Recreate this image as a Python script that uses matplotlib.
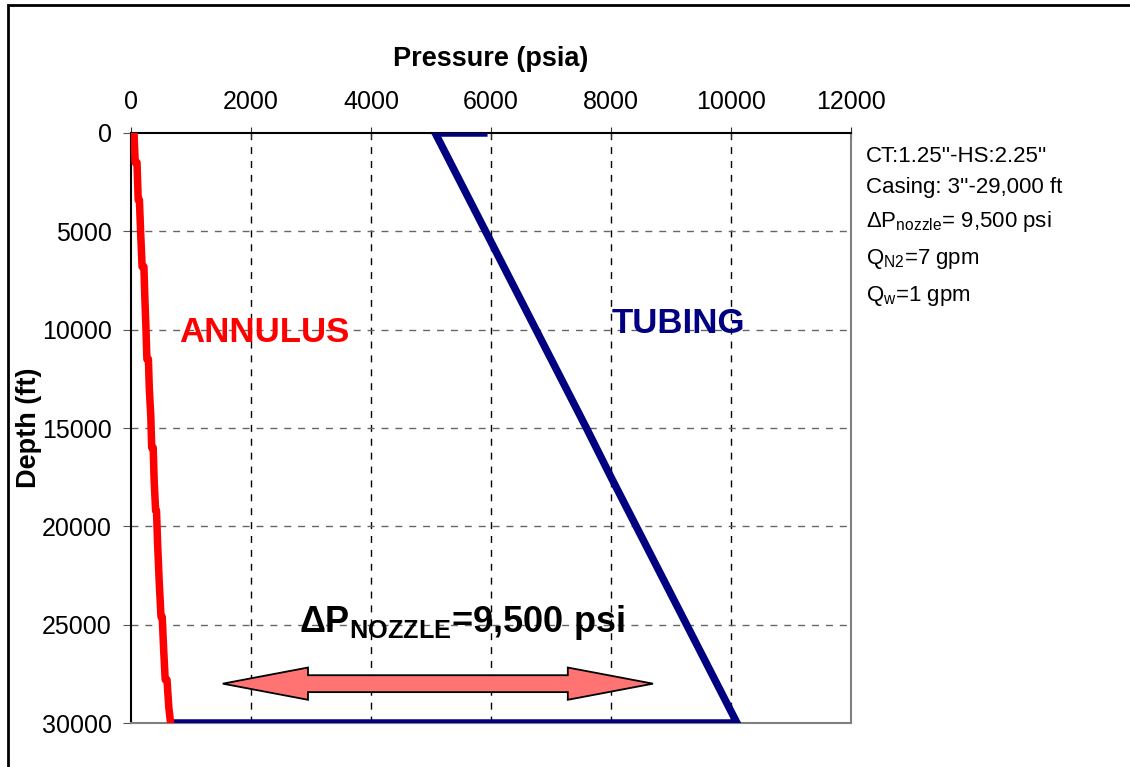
import matplotlib
matplotlib.use("Agg")
import matplotlib.pyplot as plt
from matplotlib.patches import Polygon, Rectangle

plt.rcParams['font.family'] = ['Liberation Sans', 'DejaVu Sans']
plt.rcParams['mathtext.fontset'] = 'custom'
plt.rcParams['mathtext.rm'] = 'Liberation Sans'
plt.rcParams['mathtext.it'] = 'Liberation Sans:italic'
plt.rcParams['mathtext.bf'] = 'Liberation Sans:bold'

# annulus pressure profile (stepped), depth in ft, pressure in psia
ann_depth = [0, 1500, 1500, 3400, 3400, 5000, 6800, 6800, 8300, 10000, 11500, 11500,
             13000, 14400, 16000, 16000, 17600, 19200, 19200, 21000, 22800, 24600,
             24600, 26300, 27800, 27800, 29200, 30000]
ann_press = [50, 70, 100, 120, 140, 160, 185, 215, 230, 250, 265, 290,
             305, 330, 345, 370, 385, 410, 425, 445, 470, 500,
             520, 545, 570, 600, 630, 660]

# tubing profile: surface choke leg, string down to nozzle, then across to annulus
tub_depth = [0, 0, 2500, 5000, 7500, 10000, 12500, 15000, 17500, 20000,
             22500, 25000, 27500, 30000, 30000]
tub_press = [5880, 5070, 5490, 5910, 6330, 6750, 7170, 7590, 8000, 8420,
             8840, 9260, 9680, 10100, 730]

x_ticks = [0, 2000, 4000, 6000, 8000, 10000, 12000]
y_ticks = [0, 5000, 10000, 15000, 20000, 25000, 30000]

info_lines = ["CT:1.25''-HS:2.25''",
              "Casing: 3''-29,000 ft",
              "\u0394P$_{\\mathrm{nozzle}}$= 9,500 psi",
              "Q$_{\\mathrm{N2}}$=7 gpm",
              "Q$_{\\mathrm{w}}$=1 gpm"]

# nozzle pressure-drop arrow span (psia) and depth
arrow_left, arrow_right, arrow_depth = 1530, 8700, 28000

fig = plt.figure(figsize=(11.3, 7.67), dpi=100)
ax = fig.add_axes([131/1130, 1-723/767, 720/1130, 590/767])

ax.plot(tub_press, tub_depth, color='#000080', lw=5.4, zorder=3, solid_joinstyle='miter')
ax.plot(ann_press, ann_depth, color='#FF0000', lw=5.4, zorder=4)

ax.set_xlim(0, 12000)
ax.set_ylim(30000, 0)
ax.set_xticks(x_ticks)
ax.set_yticks(y_ticks)
ax.xaxis.tick_top()
ax.xaxis.set_label_position('top')
ax.tick_params(axis='x', direction='inout', length=8, labelsize=18, pad=10, color='#333333')
ax.tick_params(axis='y', direction='out', length=6, labelsize=18, pad=8, color='#555555')

ax.set_xlabel('Pressure (psia)', fontsize=19.5, fontweight='bold', labelpad=17)
ax.set_ylabel('Depth (ft)', fontsize=19.5, fontweight='bold')
ax.yaxis.set_label_coords((42 - 131) / 720, 0.5)

for x in x_ticks[1:-1]:
    ax.axvline(x, color='black', lw=1, ls=(0, (5, 5)), zorder=1)
for y in y_ticks[1:-1]:
    ax.axhline(y, color='#666666', lw=1, ls=(0, (5, 5)), zorder=1)

ax.spines['top'].set_color('black')
ax.spines['left'].set_color('black')
ax.spines['right'].set_color('#808080')
ax.spines['bottom'].set_color('#808080')
for s in ax.spines.values():
    s.set_linewidth(1.5)

ax.text(2220, 10150, 'ANNULUS', color='#FF0000', fontsize=25, fontweight='bold',
        ha='center', va='center')
ax.text(9120, 9700, 'TUBING', color='#000080', fontsize=25, fontweight='bold',
        ha='center', va='center')
ax.text(5520, 24900, '\u0394P$_{\\mathbf{NOZZLE}}$=9,500 psi', fontsize=26,
        fontweight='bold', ha='center', va='center')

# double-headed arrow built in data units
head_len = 1420
head_half = 820
shaft_half = 430
mid = arrow_depth
arrow_pts = [
    (arrow_left, mid),
    (arrow_left + head_len, mid - head_half),
    (arrow_left + head_len, mid - shaft_half),
    (arrow_right - head_len, mid - shaft_half),
    (arrow_right - head_len, mid - head_half),
    (arrow_right, mid),
    (arrow_right - head_len, mid + head_half),
    (arrow_right - head_len, mid + shaft_half),
    (arrow_left + head_len, mid + shaft_half),
    (arrow_left + head_len, mid + head_half),
]
ax.add_patch(Polygon(arrow_pts, closed=True, facecolor='#FF7373',
                     edgecolor='black', lw=1.3, zorder=5))

info_y = [156, 188, 222, 259, 296]
for line, py in zip(info_lines, info_y):
    fig.text(866/1130, 1 - py/767, line, fontsize=16, ha='left', va='center')

# outer frame of the chart area
fig.patches.append(Rectangle((8/1130, -0.1), 1.2, 1 - 5/767 + 0.1,
                             transform=fig.transFigure, fill=False,
                             edgecolor='black', lw=2))

fig.savefig('out.png', dpi=100)
